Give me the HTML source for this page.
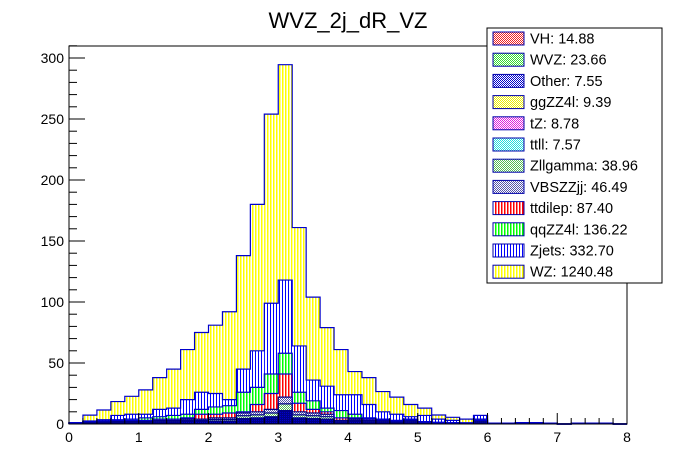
<!DOCTYPE html>
<html><head><meta charset="utf-8"><style>
body{margin:0;background:#fff;}
svg{display:block;font-family:"Liberation Sans",Arial,sans-serif;}
pattern rect{shape-rendering:crispEdges;}
</style></head><body>
<svg id="c" width="696" height="472" viewBox="0 0 696 472">
<defs>
<pattern id="pWZ" width="3" height="4" patternUnits="userSpaceOnUse"><rect width="3" height="4" fill="#fff"/><rect width="1.5" height="4" fill="#ffff00"/></pattern>
<pattern id="pZj" width="3" height="4" patternUnits="userSpaceOnUse"><rect width="3" height="4" fill="#fff"/><rect width="1.2" height="4" fill="#0000ff"/></pattern>
<pattern id="pqq" width="3" height="4" patternUnits="userSpaceOnUse"><rect width="3" height="4" fill="#fff"/><rect width="1.5" height="4" fill="#00ff00"/></pattern>
<pattern id="ptt" width="3" height="4" patternUnits="userSpaceOnUse"><rect width="3" height="4" fill="#fff"/><rect width="1.5" height="4" fill="#ff0000"/></pattern>
<pattern id="cVBS" width="2" height="2" patternUnits="userSpaceOnUse"><rect width="2" height="2" fill="#fff"/><rect width="1" height="1" fill="#5555aa"/><rect x="1" y="1" width="1" height="1" fill="#5555aa"/></pattern>
<pattern id="cZll" width="2" height="2" patternUnits="userSpaceOnUse"><rect width="2" height="2" fill="#fff"/><rect width="1" height="1" fill="#55bb55"/><rect x="1" y="1" width="1" height="1" fill="#55bb55"/></pattern>
<pattern id="cOth" width="2" height="2" patternUnits="userSpaceOnUse"><rect width="2" height="2" fill="#000088"/><rect width="1" height="1" fill="#0000cc"/></pattern>
<pattern id="cVH" width="2" height="2" patternUnits="userSpaceOnUse"><rect width="2" height="2" fill="#fff"/><rect width="1" height="1" fill="#ee2222"/><rect x="1" y="1" width="1" height="1" fill="#ee2222"/></pattern>
<pattern id="cWVZ" width="2" height="2" patternUnits="userSpaceOnUse"><rect width="2" height="2" fill="#fff"/><rect width="1" height="1" fill="#33dd33"/><rect x="1" y="1" width="1" height="1" fill="#33dd33"/></pattern>
<pattern id="cgg" width="2" height="2" patternUnits="userSpaceOnUse"><rect width="2" height="2" fill="#fff"/><rect width="1" height="1" fill="#eeee00"/><rect x="1" y="1" width="1" height="1" fill="#eeee00"/></pattern>
<pattern id="ctZ" width="2" height="2" patternUnits="userSpaceOnUse"><rect width="2" height="2" fill="#fff"/><rect width="1" height="1" fill="#dd22dd"/><rect x="1" y="1" width="1" height="1" fill="#dd22dd"/></pattern>
<pattern id="cttll" width="2" height="2" patternUnits="userSpaceOnUse"><rect width="2" height="2" fill="#fff"/><rect width="1" height="1" fill="#22dddd"/><rect x="1" y="1" width="1" height="1" fill="#22dddd"/></pattern>
<pattern id="cOthL" width="2" height="2" patternUnits="userSpaceOnUse"><rect width="2" height="2" fill="#fff"/><rect width="1" height="1" fill="#0000cc"/><rect x="1" y="1" width="1" height="1" fill="#0000cc"/></pattern>
</defs>
<text x="348" y="28" font-size="22" text-anchor="middle">WVZ_2j_dR_VZ</text>
<g id="bars"></g>
<g id="axes"></g>
<g id="legend"></g>
</svg>
<script>
const binLow = 0, binWidth = 0.2;
const other = [0.5,1,1.2,1,1,1,1.5,1.5,2,2,2.5,2.5,4.5,5,6,11,5,4.5,4,1.5,2,1.5,1.5,1,1.5,0.5,0.5,0.5,0.3,1.5,0.5,0.5,1,1,0.5,0,0.5,0.5,0.5,0];
const zllgamma = [0.25,0.5,0.65,0.5,0.5,0.5,0.75,0.75,1,1,1.25,1.25,2.25,2.5,3,5.5,2.5,2.25,2,0.75,1,0.75,0.75,0.5,0.75,0.25,0.25,0.25,0.1,0.75,0,0,0,0,0,0,0,0,0,0];
const vbszzjj = [0.25,0.5,0.65,0.5,0.5,0.5,0.75,0.75,1,1,1.25,1.25,2.25,2.5,3,5.5,2.5,2.25,2,0.75,1,0.75,0.75,0.5,0.75,0.25,0.25,0.25,0.1,0.75,0,0,0,0,0,0,0,0,0,0];
const ttdilep = [0,0,0,1,1,1,1,1,1,4,3,4,1,6,13,19,7,3,2,2,1,1,0.5,0.5,0.5,0.5,0,0,0,0,0,0,0,0,0,0,0,0,0,0];
const qqzz4l = [0,0,0,0.5,1,2,2,3,3,4,6,6,16,14,16,17,9,7,3,6,3,1,0.5,0.5,0.5,0.5,0.5,0,0,1,0,0,0,0,0,0,0,0,0,0];
const zjets = [0,0.5,1,3.5,4,3,6,6,12,14,11,5,19,30,58,60,38,17,18,13,16,11,6,5,2,5,2.5,2,0.5,3,0,0,0,0,0,0,0,0,0,0];
const wz = [0,4.8,8,11.4,14.7,20,26,32,41,49,56,72,93,120,155,176.5,97,68,48,37,19,22,16.6,14,10,6,3.4,2.5,3,0,0,0,0,0,0,0,0,0,0,0];
const xTicks = [0,1,2,3,4,5,6,7,8];
const yTicks = [0,50,100,150,200,250,300];
const legendLabels = ["VH: 14.88","WVZ: 23.66","Other: 7.55","ggZZ4l: 9.39","tZ: 8.78","ttll: 7.57","Zllgamma: 38.96","VBSZZjj: 46.49","ttdilep: 87.40","qqZZ4l: 136.22","Zjets: 332.70","WZ: 1240.48"];

const X0=69,X1=627,Y0=424,YT=46;
const xs = v => X0 + (v-0)/(8-0)*(X1-X0);
const ys = v => Y0 - v*(Y0-58)/300;
const NS="http://www.w3.org/2000/svg";
function mk(tag, attrs, parent){const e=document.createElementNS(NS,tag);for(const k in attrs)e.setAttribute(k,attrs[k]);parent.appendChild(e);return e;}

const series = [
 {name:"other",vals:other,fill:"url(#cOth)",stroke:"#000088"},
 {name:"zllgamma",vals:zllgamma,fill:"url(#cZll)",stroke:"#000088"},
 {name:"vbszzjj",vals:vbszzjj,fill:"url(#cVBS)",stroke:"#000088"},
 {name:"ttdilep",vals:ttdilep,fill:"url(#ptt)",stroke:"#0000cc"},
 {name:"qqzz4l",vals:qqzz4l,fill:"url(#pqq)",stroke:"#0000cc"},
 {name:"zjets",vals:zjets,fill:"url(#pZj)",stroke:"#0000cc"},
 {name:"wz",vals:wz,fill:"url(#pWZ)",stroke:"#0000cc"}
];
const bars=document.getElementById('bars');
const n=wz.length;
const cum=new Array(n).fill(0);
const tops=[];
series.forEach(s=>{
  const g=mk('g',{},bars);
  
  
  const top=[];
  for(let i=0;i<n;i++){
    const lo=cum[i], hi=cum[i]+s.vals[i];
    top.push(hi);
    if(s.vals[i]>0){
      const xa=xs(binLow+i*binWidth), xb=xs(binLow+(i+1)*binWidth);
      const r=mk('rect',{x:xa,y:ys(hi),width:xb-xa,height:ys(lo)-ys(hi),fill:s.fill},g);
      
      
    }
    cum[i]=hi;
  }
  tops.push({top,stroke:s.stroke});
});
tops.forEach(t=>{
  let d='M'+xs(0)+','+Y0;
  for(let i=0;i<n;i++){
    const xa=xs(binLow+i*binWidth), xb=xs(binLow+(i+1)*binWidth);
    d+=' L'+xa+','+ys(t.top[i])+' L'+xb+','+ys(t.top[i]);
  }
  d+=' L'+xs(8)+','+Y0;
  mk('path',{d:d,fill:'none',stroke:t.stroke,'stroke-width':1.2},bars);
});

const ax=document.getElementById('axes');
const frame=mk('rect',{x:X0,y:YT,width:X1-X0,height:Y0-YT,fill:'none',stroke:'#000','stroke-width':1},ax);


for(let v=0;v<=8.0001;v+=0.2){
  const major=Math.abs(v-Math.round(v))<1e-6;
  const len=major?11:6;
  mk('line',{x1:xs(v),x2:xs(v),y1:Y0,y2:Y0-len,stroke:'#000'},ax);
}
xTicks.forEach(v=>{
  const t=mk('text',{x:xs(v),y:Y0+18,'font-size':14,'text-anchor':'middle'},ax);
  t.textContent=v;
  
  
});
for(let v=0;v<=310;v+=10){
  const major=v%50===0;
  mk('line',{x1:X0,x2:X0+(major?16:8),y1:ys(v),y2:ys(v),stroke:'#000'},ax);
}
yTicks.forEach(v=>{
  const t=mk('text',{x:X0-5,y:ys(v)+5,'font-size':14,'text-anchor':'end'},ax);
  t.textContent=v;
  
  
});

const lg=document.getElementById('legend');
const box=mk('rect',{x:487,y:28,width:175,height:255,fill:'#fff',stroke:'#000','stroke-width':1},lg);


const legendFills=["url(#cVH)","url(#cWVZ)","url(#cOthL)","url(#cgg)","url(#ctZ)","url(#cttll)","url(#cZll)","url(#cVBS)","url(#ptt)","url(#pqq)","url(#pZj)","url(#pWZ)"];
legendLabels.forEach((lab,i)=>{
  const cy=38.5+i*21.2;
  const g=mk('g',{},lg);
  
  
  mk('rect',{x:493,y:cy-6.5,width:31,height:13,fill:legendFills[i],stroke:'#0000aa','stroke-width':1},g);
  const t=mk('text',{x:530,y:cy+5,'font-size':14.5},g);
  t.textContent=lab;
});
</script>
</body></html>
